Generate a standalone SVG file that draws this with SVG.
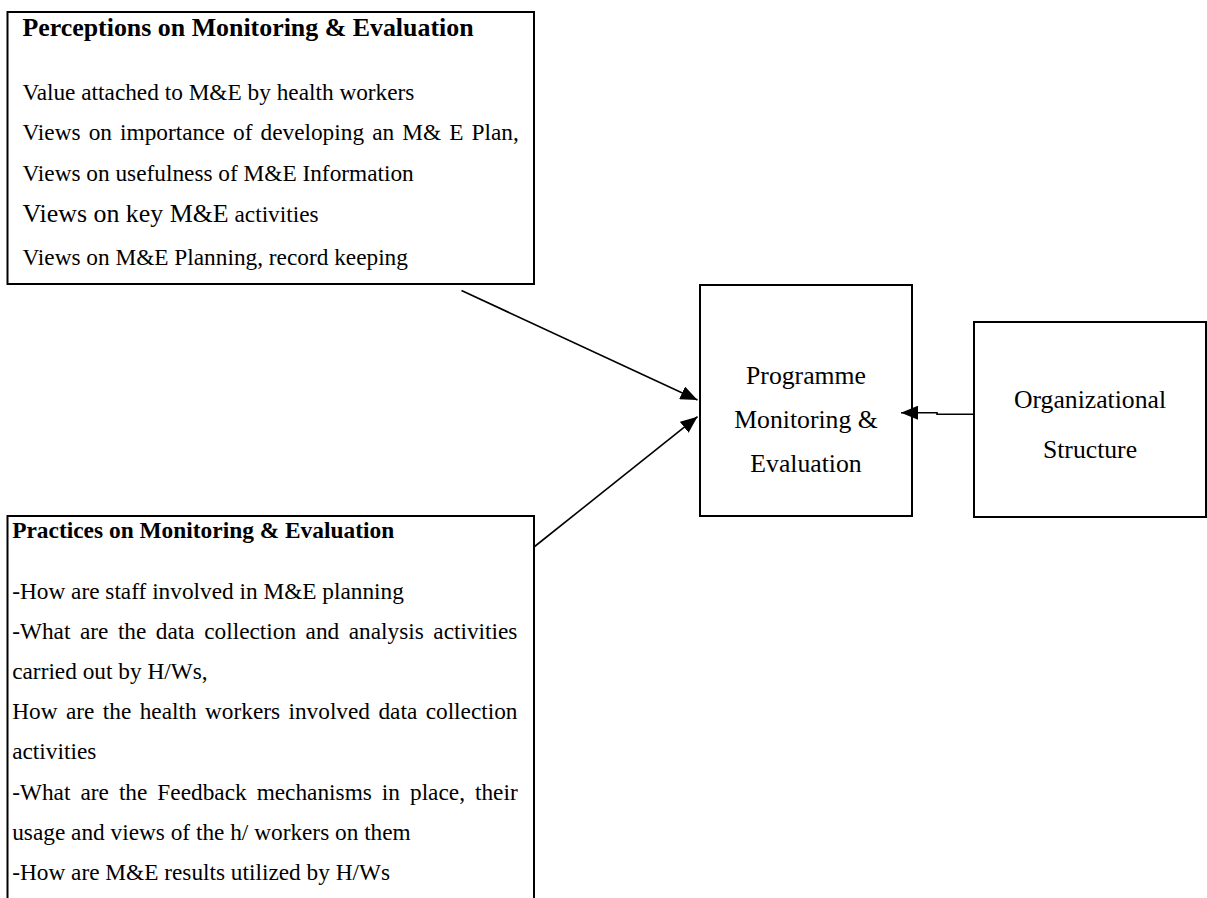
<svg xmlns="http://www.w3.org/2000/svg" width="1207" height="898" viewBox="0 0 1207 898">
<style>
.box{fill:#fff;stroke:#000;stroke-width:2}
.t{font-family:"Liberation Serif","Times New Roman",serif;fill:#000}
.b{font-size:23.3px}
.h1{font-size:25.9px;font-weight:bold}
.h2{font-size:23.4px;font-weight:bold}
.c{font-size:25.7px;text-anchor:middle}
.con{fill:none;stroke:#000;stroke-width:1.6}
</style>
<defs>
<marker id="ah" markerUnits="userSpaceOnUse" markerWidth="18" markerHeight="14" refX="17" refY="7" orient="auto">
<path d="M0,0 L17,7 L0,14 Z" fill="#000"/>
</marker>
</defs>
<rect width="1207" height="898" fill="#fff"/>
<g id="perceptions">
<rect class="box" x="7.5" y="12" width="526.5" height="272"/>
<text class="t h1" x="22.4" y="36">Perceptions on Monitoring &amp; Evaluation</text>
<text class="t b" x="22.4" y="100">Value attached to M&amp;E by health workers</text>
<text class="t b" x="22.4" y="139.5" word-spacing="2.3">Views on importance of developing an M&amp; E Plan,</text>
<text class="t b" x="22.4" y="181">Views on usefulness of M&amp;E Information</text>
<text class="t b" x="22.4" y="222"><tspan font-size="25.9">Views on key M&amp;E</tspan> activities</text>
<text class="t b" x="22.4" y="265">Views on M&amp;E Planning, record keeping</text>
</g>
<g id="practices">
<rect class="box" x="7.5" y="516" width="526.5" height="400"/>
<text class="t h2" x="12.2" y="538.3">Practices on Monitoring &amp; Evaluation</text>
<text class="t b" x="12.2" y="599">-How are staff involved in M&amp;E planning</text>
<text class="t b" x="12.2" y="639" word-spacing="3.7">-What are the data collection and analysis activities</text>
<text class="t b" x="12.2" y="679">carried out by H/Ws,</text>
<text class="t b" x="12.2" y="719" word-spacing="2.6">How are the health workers involved data collection</text>
<text class="t b" x="12.2" y="759">activities</text>
<text class="t b" x="12.2" y="800" word-spacing="4.2">-What are the Feedback mechanisms in place, their</text>
<text class="t b" x="12.2" y="840">usage and views of the h/ workers on them</text>
<text class="t b" x="12.2" y="880">-How are M&amp;E results utilized by H/Ws</text>
</g>
<g id="programme">
<rect class="box" x="700" y="285" width="212" height="231"/>
<text class="t c" x="806" y="383.5">Programme</text>
<text class="t c" x="806" y="428">Monitoring &amp;</text>
<text class="t c" x="806" y="472">Evaluation</text>
</g>
<g id="organizational">
<rect class="box" x="974" y="322" width="232" height="195"/>
<text class="t c" x="1090" y="407.5">Organizational</text>
<text class="t c" x="1090" y="458">Structure</text>
</g>
<g id="connectors">
<line class="con" x1="461.5" y1="290.5" x2="697.5" y2="400" marker-end="url(#ah)"/>
<line class="con" x1="534" y1="547" x2="697.5" y2="416.7" marker-end="url(#ah)"/>
<polyline class="con" points="974,414.3 937,414.3 937,412.7 901,412.7" marker-end="url(#ah)"/>
</g>
</svg>
